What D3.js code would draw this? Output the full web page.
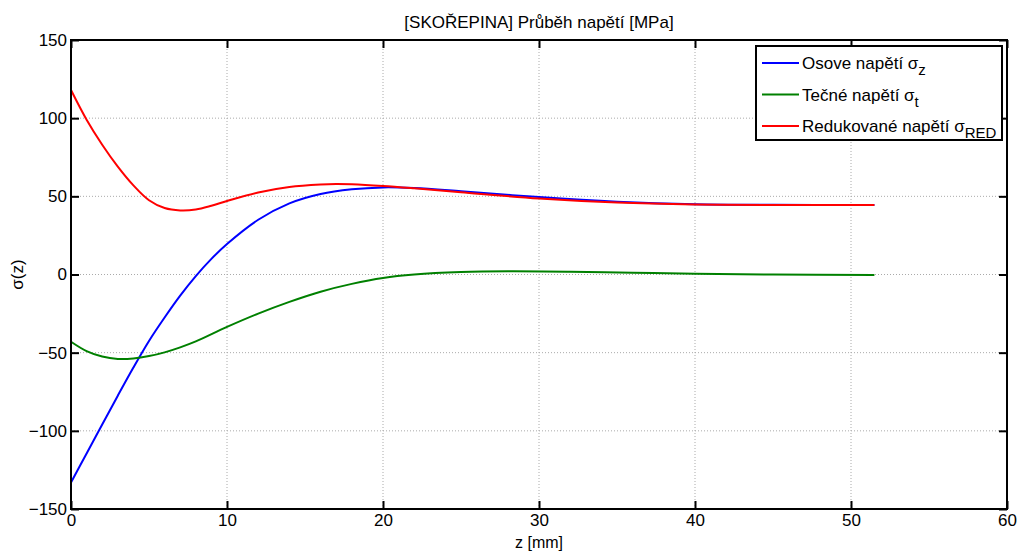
<!DOCTYPE html>
<html>
<head>
<meta charset="utf-8">
<script src="https://cdn.jsdelivr.net/npm/d3@7"></script>
<style>
  body { margin: 0; background: #fff; }
  text { font-family: "Liberation Sans", Arial, sans-serif; fill: #000; }
</style>
</head>
<body>
<svg id="chart" width="1019" height="554"></svg>
<script>
// values
var zOsove = [0, 1, 2, 3, 4, 5, 6, 7, 8, 9, 10, 12, 14, 16, 18, 20, 22, 25, 30, 35, 40, 45, 51.5];
var osove = [-133, -114.5, -96, -77.5, -59.5, -42.5, -27.5, -13.5, -1, 10, 19.5, 35, 45.5, 51.5, 54.5, 55.7, 55.3, 53.3, 49.5, 46.6, 45, 44.6, 44.5];

var zTecne = [0, 1, 2, 3, 4, 5, 6, 7, 8, 10, 12, 14, 16, 18, 20, 22, 25, 28, 32, 36, 40, 45, 51.5];
var tecne = [-43, -49, -52.5, -54, -53.7, -52.2, -49.8, -46.6, -42.8, -33.5, -25, -17.5, -11, -6, -2.2, 0, 1.6, 2.1, 1.8, 1.1, 0.5, 0, -0.3];

var zRed = [0, 1, 2, 3, 4, 5, 6, 7, 8, 9, 10, 12, 14, 16, 17, 18, 20, 22, 25, 30, 35, 40, 45, 51.5];
var redukovane = [118, 99, 83, 69, 57, 47.5, 42.5, 41, 41.6, 44, 47, 52.5, 56, 57.6, 57.9, 57.7, 56.6, 55.1, 52.6, 48.6, 46, 44.8, 44.5, 44.5];

var xTicks = [0, 10, 20, 30, 40, 50, 60];
var yTicks = [-150, -100, -50, 0, 50, 100, 150];

var series = [
    { name: "Osove napětí σ", sub: "z", color: "#0000ff", z: zOsove, v: osove },
    { name: "Tečné napětí σ", sub: "t", color: "#008000", z: zTecne, v: tecne },
    { name: "Redukované napětí σ", sub: "RED", color: "#ff0000", z: zRed, v: redukovane }
];

var svg = d3.select("#chart"),
    margin = { top: 40, right: 12, bottom: 45, left: 71 },
    width = +svg.attr("width") - margin.left - margin.right,
    height = +svg.attr("height") - margin.top - margin.bottom,
    g = svg.append("g").attr("transform", "translate(" + margin.left + "," + margin.top + ")");

var x = d3.scaleLinear().domain([0, 60]).range([0, width]);
var y = d3.scaleLinear().domain([-150, 150]).range([height, 0]);

// grid
g.append("g").selectAll("line").data(xTicks.slice(1, -1)).enter().append("line")
    .attr("x1", function (d) { return x(d); }).attr("x2", function (d) { return x(d); })
    .attr("y1", 0).attr("y2", height)
    .attr("stroke", "#aaa").attr("stroke-width", 1).attr("stroke-dasharray", "1,2");
g.append("g").selectAll("line").data(yTicks.slice(1, -1)).enter().append("line")
    .attr("y1", function (d) { return y(d); }).attr("y2", function (d) { return y(d); })
    .attr("x1", 0).attr("x2", width)
    .attr("stroke", "#aaa").attr("stroke-width", 1).attr("stroke-dasharray", "1,2");

// lines
var line = d3.line().curve(d3.curveCatmullRom.alpha(0.5));
series.forEach(function (s) {
    var pts = s.z.map(function (z, i) { return [x(z), y(s.v[i])]; });
    g.append("path")
        .attr("d", line(pts))
        .attr("fill", "none")
        .attr("stroke", s.color)
        .attr("stroke-width", 2);
});

// axes, ticks pointing inward, mirrored on top and right
function styleAxis(sel) {
    sel.select(".domain").remove();
    sel.selectAll(".tick line").attr("stroke", "#000").attr("stroke-width", 2);
    sel.selectAll(".tick text").style("font-size", "17px").style("font-family", "Liberation Sans, Arial, sans-serif");
}
g.append("g")
    .attr("transform", "translate(0," + height + ")")
    .call(d3.axisBottom(x).tickValues(xTicks).tickSize(-8).tickPadding(5))
    .call(styleAxis);
g.append("g")
    .call(d3.axisLeft(y).tickValues(yTicks).tickSize(-8).tickPadding(4))
    .call(styleAxis);
g.append("g")
    .call(d3.axisTop(x).tickValues(xTicks).tickSize(-8).tickFormat(""))
    .call(styleAxis);
g.append("g")
    .attr("transform", "translate(" + width + ",0)")
    .call(d3.axisRight(y).tickValues(yTicks).tickSize(-8).tickFormat(""))
    .call(styleAxis);

g.append("rect")
    .attr("width", width).attr("height", height)
    .attr("fill", "none").attr("stroke", "#000").attr("stroke-width", 2);

// labels
svg.append("text")
    .attr("x", margin.left + width / 2).attr("y", 28)
    .attr("text-anchor", "middle").style("font-size", "17px")
    .text("[SKOŘEPINA] Průběh napětí [MPa]");
svg.append("text")
    .attr("x", margin.left + width / 2).attr("y", 548)
    .attr("text-anchor", "middle").style("font-size", "16px")
    .text("z [mm]");
svg.append("text")
    .attr("transform", "translate(23," + (margin.top + height / 2) + ") rotate(-90)")
    .attr("text-anchor", "middle").style("font-size", "17px")
    .text("σ(z)");

// legend
var lg = svg.append("g").attr("transform", "translate(756,46)");
lg.append("rect").attr("width", 246).attr("height", 94)
    .attr("fill", "#fff").attr("stroke", "#000").attr("stroke-width", 2);
series.forEach(function (s, i) {
    var ly = 17 + i * 31.5;
    lg.append("line").attr("x1", 6).attr("x2", 43).attr("y1", ly).attr("y2", ly)
        .attr("stroke", s.color).attr("stroke-width", 2);
    var t = lg.append("text").attr("x", 46).attr("y", ly + 6).style("font-size", "17px");
    t.append("tspan").text(s.name);
    t.append("tspan").attr("dy", 6).style("font-size", "15px").text(s.sub);
});
</script>
</body>
</html>
